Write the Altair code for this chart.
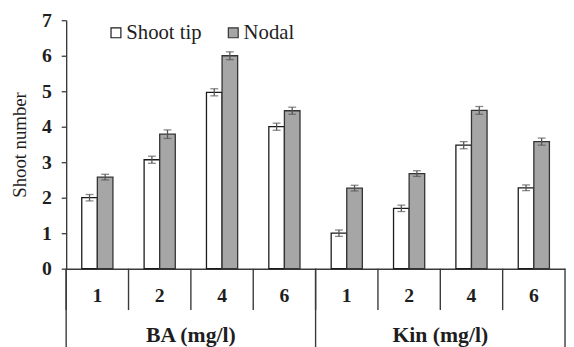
import altair as alt
import pandas as pd

# ---- data ----
hormones = ["BA", "Kin"]
doses = ["1", "2", "4", "6"]
hormone_titles = ["BA (mg/l)", "Kin (mg/l)"]
series = ["Shoot tip", "Nodal"]
shoot_tip = [2.0, 3.07, 4.97, 4.0, 1.0, 1.7, 3.48, 2.28]
shoot_tip_err = [0.09, 0.1, 0.1, 0.1, 0.09, 0.09, 0.1, 0.08]
nodal = [2.58, 3.79, 6.0, 4.45, 2.27, 2.68, 4.46, 3.58]
nodal_err = [0.08, 0.12, 0.11, 0.1, 0.08, 0.08, 0.11, 0.1]
y_ticks = [0, 1, 2, 3, 4, 5, 6, 7]

groups = [f"{h} {d}" for h in hormones for d in doses]

rows = []
for i, g in enumerate(groups):
    rows.append({"group": g, "series": series[0], "value": shoot_tip[i], "err": shoot_tip_err[i]})
    rows.append({"group": g, "series": series[1], "value": nodal[i], "err": nodal_err[i]})
df = pd.DataFrame(rows)
df["lo"] = df["value"] - df["err"]
df["hi"] = df["value"] + df["err"]

FONT = "Liberation Serif"
AX = "#3a3a3a"
TXT = "#1e1e1e"
PLOT_H = 252
PLOT_W = 506

xaxis = alt.Axis(title=None, labelExpr="split(datum.label, ' ')[1]",
                 ticks=False, tickSize=0, labelPadding=17, labelAngle=0,
                 labelFont=FONT, labelFontWeight="bold", labelFontSize=20,
                 labelColor=TXT, domainColor=AX, domainWidth=1.4)
yaxis = alt.Axis(title="Shoot number", values=y_ticks, tickCount=8, grid=False,
                 tickSize=5, tickColor=AX, tickWidth=1.3,
                 domainColor=AX, domainWidth=1.4, labelOverlap=False,
                 labelPadding=10, labelFont=FONT, labelFontWeight="bold",
                 labelFontSize=20, labelColor=TXT,
                 titleFont=FONT, titleFontWeight="normal", titleFontSize=19,
                 titleColor=TXT, titlePadding=12)

xscale = alt.Scale(domain=groups, paddingInner=0, paddingOuter=0)
xoff = alt.XOffset("series:N", sort=series,
                   scale=alt.Scale(domain=series, paddingInner=0, paddingOuter=1))
yscale = alt.Scale(domain=[0, 7], nice=False)

base = alt.Chart(df)

bars = base.mark_bar(strokeWidth=1.3).encode(
    x=alt.X("group:N", sort=groups, scale=xscale, axis=xaxis),
    xOffset=xoff,
    y=alt.Y("value:Q", scale=yscale, axis=yaxis, title="Shoot number"),
    fill=alt.Fill("series:N", sort=series,
                  scale=alt.Scale(domain=series, range=["#ffffff", "#a6a6a6"]),
                  legend=alt.Legend(title=None, orient="none", direction="horizontal",
                                    legendX=40, legendY=2, symbolType="square",
                                    symbolSize=100, symbolStrokeColor="#222",
                                    symbolStrokeWidth=1.2, labelFont=FONT,
                                    labelFontSize=21, labelColor=TXT,
                                    labelOffset=0, columnPadding=21, padding=0)),
    stroke=alt.Stroke("series:N", sort=series,
                      scale=alt.Scale(domain=series, range=["#1a1a1a", "#333333"]),
                      legend=None),
)

xq = alt.X("group:N", sort=groups, scale=xscale, axis=xaxis)

err_rule = base.mark_rule(color="#555555", strokeWidth=1.3).encode(
    x=xq, xOffset=xoff,
    y=alt.Y("lo:Q", scale=yscale, axis=yaxis, title="Shoot number"),
    y2="hi:Q",
)
err_lo = base.mark_tick(color="#555555", size=8, thickness=1.3).encode(
    x=xq, xOffset=xoff,
    y=alt.Y("lo:Q", scale=yscale, axis=yaxis, title="Shoot number"),
)
err_hi = base.mark_tick(color="#555555", size=8, thickness=1.3).encode(
    x=xq, xOffset=xoff,
    y=alt.Y("hi:Q", scale=yscale, axis=yaxis, title="Shoot number"),
)

# table separators below the axis
sep_short = alt.Chart(pd.DataFrame({"group": groups})).mark_rule(
    color=AX, strokeWidth=1.4).encode(
    x=alt.X("group:N", sort=groups, scale=xscale, bandPosition=0, axis=xaxis),
    y=alt.value(PLOT_H), y2=alt.value(PLOT_H + 42),
)
long_left = alt.Chart(pd.DataFrame({"group": [groups[0], groups[4]]})).mark_rule(
    color=AX, strokeWidth=1.4).encode(
    x=alt.X("group:N", sort=groups, scale=xscale, bandPosition=0, axis=xaxis),
    y=alt.value(PLOT_H), y2=alt.value(PLOT_H + 90),
)
long_right = alt.Chart(pd.DataFrame({"group": [groups[-1]]})).mark_rule(
    color=AX, strokeWidth=1.4).encode(
    x=alt.X("group:N", sort=groups, scale=xscale, bandPosition=1, axis=xaxis),
    y=alt.value(PLOT_H), y2=alt.value(PLOT_H + 90),
)
group_labels = alt.Chart(pd.DataFrame({"group": [groups[1], groups[5]],
                                       "label": hormone_titles})).mark_text(
    font=FONT, fontWeight="bold", fontSize=22, color=TXT, baseline="middle").encode(
    x=alt.X("group:N", sort=groups, scale=xscale, bandPosition=1, axis=xaxis),
    y=alt.value(PLOT_H + 67),
    text="label:N",
)

chart = alt.layer(bars, err_rule, err_lo, err_hi, sep_short, long_left, long_right,
                  group_labels).properties(
    width=PLOT_W, height=PLOT_H,
    autosize=alt.AutoSizeParams(type="none"),
    padding={"left": 59, "top": 10, "right": 1, "bottom": 77},
).configure_view(strokeWidth=0)

chart.save("out.html", embed_options={"renderer": "svg", "actions": False})
